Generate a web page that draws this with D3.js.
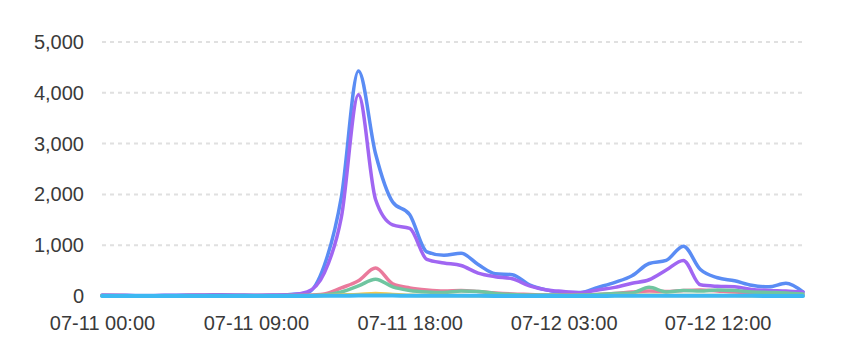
<!DOCTYPE html>
<html>
<head>
<meta charset="utf-8">
<script src="https://cdn.jsdelivr.net/npm/d3@7"></script>
<style>
  html, body { margin: 0; padding: 0; background: #fff; }
  svg { display: block; }
  text { font-family: "Liberation Sans", "Helvetica", Arial, sans-serif; }
</style>
</head>
<body>
<svg id="chart" width="860" height="362"></svg>
<script>
// hourly samples, 07-11 00:00 .. 07-12 17:00
const startTime = "2023-07-11T00:00:00";
const hours = d3.range(0, 42);
const tickLabels = ["07-11 00:00", "07-11 09:00", "07-11 18:00", "07-12 03:00", "07-12 12:00"];
const yTicks = [0, 1000, 2000, 3000, 4000, 5000];

const blue = [20, 15, 10, 10, 15, 20, 20, 25, 20, 15, 20, 30, 60, 600, 1950, 4430, 2800, 1850, 1600, 870, 800, 840, 620, 440, 420, 220, 120, 70, 70, 170, 270, 400, 640, 700, 980, 520, 360, 300, 210, 180, 250, 80];
const purple = [10, 10, 5, 5, 10, 10, 15, 15, 10, 10, 15, 20, 80, 450, 1550, 3960, 1900, 1400, 1330, 720, 650, 600, 450, 380, 340, 200, 120, 90, 65, 120, 170, 250, 320, 510, 700, 220, 190, 180, 130, 110, 100, 80];
const pink = [8, 8, 6, 5, 6, 8, 10, 10, 8, 8, 10, 10, 15, 40, 160, 300, 550, 240, 160, 120, 100, 110, 90, 60, 40, 30, 20, 20, 20, 30, 50, 80, 100, 90, 110, 120, 100, 80, 70, 60, 50, 30];
const green = [5, 5, 5, 5, 5, 5, 5, 5, 5, 5, 5, 8, 10, 20, 80, 200, 330, 180, 110, 80, 70, 100, 90, 50, 30, 20, 20, 15, 20, 30, 50, 60, 170, 80, 110, 100, 120, 110, 80, 70, 60, 40];
const yellow = [3, 3, 3, 3, 3, 3, 3, 3, 3, 3, 3, 3, 5, 10, 20, 30, 50, 30, 15, 10, 8, 8, 6, 5, 5, 5, 5, 5, 5, 5, 8, 10, 15, 10, 10, 10, 8, 8, 6, 5, 5, 5];
const cyan = [2, 2, 2, 2, 2, 2, 2, 2, 2, 2, 2, 2, 2, 3, 5, 8, 10, 8, 5, 4, 3, 3, 3, 2, 2, 2, 2, 2, 2, 2, 3, 4, 5, 4, 4, 4, 3, 3, 3, 2, 2, 2];

const seriesList = [
  { name: "blue", values: blue, color: "#5a8cf4" },
  { name: "purple", values: purple, color: "#a066f2" },
  { name: "pink", values: pink, color: "#ea7a9c" },
  { name: "green", values: green, color: "#6fc5a0" },
  { name: "yellow", values: yellow, color: "#f2c94c" },
  { name: "cyan", values: cyan, color: "#3db8f2" }
];

const t0 = new Date(startTime);
const times = hours.map(h => new Date(t0.getTime() + h * 3600e3));

const margin = { left: 102, right: 57, top: 42, bottom: 66 };
const W = 860, H = 362;
const svg = d3.select("#chart");

const x = d3.scaleTime()
  .domain([times[0], times[times.length - 1]])
  .range([margin.left, W - margin.right]);
const y = d3.scaleLinear()
  .domain([0, 5000])
  .range([H - margin.bottom, margin.top]);

// grid lines
svg.append("g")
  .selectAll("line")
  .data(yTicks.filter(v => v > 0))
  .join("line")
  .attr("x1", margin.left)
  .attr("x2", W - margin.right)
  .attr("y1", d => y(d))
  .attr("y2", d => y(d))
  .attr("stroke", "#e0e0e0")
  .attr("stroke-width", 2)
  .attr("stroke-dasharray", "4,4");

// y axis
const yAxis = d3.axisLeft(y).tickValues(yTicks).tickSize(0).tickPadding(18)
  .tickFormat(d3.format(","));
const gy = svg.append("g").attr("transform", `translate(${margin.left},0)`).call(yAxis);
gy.select(".domain").remove();
gy.selectAll("text").attr("font-size", 20).attr("fill", "#3a3a3a")
  .style("font-family", '"Liberation Sans", Arial, sans-serif');

// x axis
const xTickTimes = tickLabels.map((_, i) => new Date(t0.getTime() + i * 9 * 3600e3));
const xAxis = d3.axisBottom(x).tickValues(xTickTimes).tickSize(0).tickPadding(20)
  .tickFormat((d, i) => tickLabels[i]);
const gx = svg.append("g").attr("transform", `translate(0,${H - margin.bottom})`).call(xAxis);
gx.select(".domain").remove();
gx.selectAll("text").attr("font-size", 20).attr("fill", "#3a3a3a")
  .style("font-family", '"Liberation Sans", Arial, sans-serif');

// lines
const line = d3.line()
  .x((d, i) => x(times[i]))
  .y(d => y(d))
  .curve(d3.curveMonotoneX);

svg.append("g")
  .selectAll("path")
  .data(seriesList)
  .join("path")
  .attr("d", s => line(s.values))
  .attr("fill", "none")
  .attr("stroke", s => s.color)
  .attr("stroke-width", s => s.name === "cyan" ? 4 : 3.5)
  .attr("stroke-linejoin", "round")
  .attr("stroke-linecap", "round");
</script>
</body>
</html>
